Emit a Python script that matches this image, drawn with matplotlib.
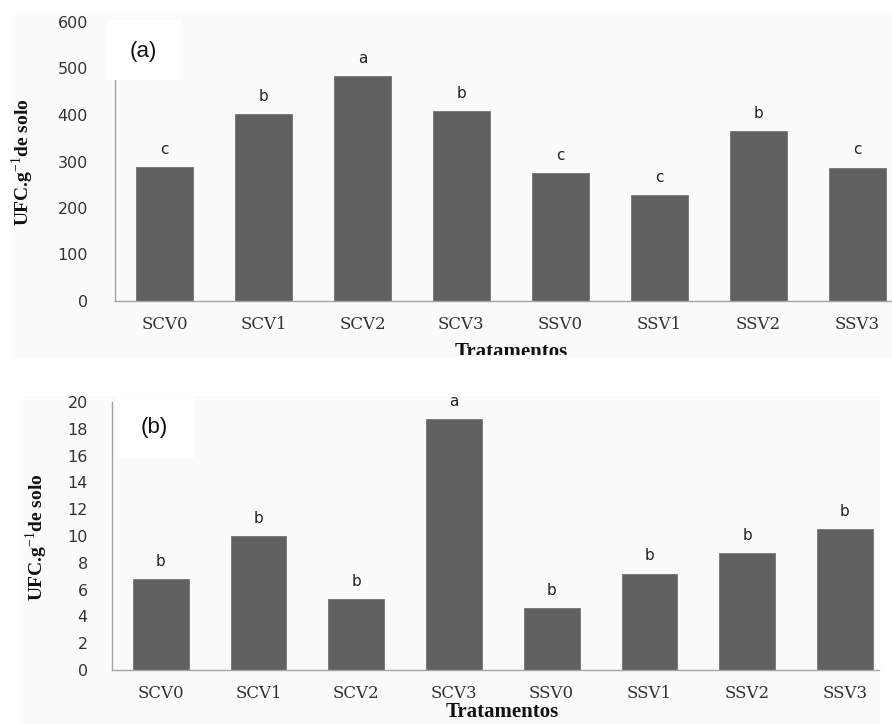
import matplotlib
matplotlib.use("Agg")
import matplotlib.pyplot as plt
from matplotlib.patches import Rectangle
from matplotlib.transforms import Bbox

# Treatments and colony counts (UFC per gram of soil)
tratamentos = ["SCV0", "SCV1", "SCV2", "SCV3", "SSV0", "SSV1", "SSV2", "SSV3"]
ufc_a = [288, 403, 484, 409, 276, 228, 366, 287]
letras_a = ["c", "b", "a", "b", "c", "c", "b", "c"]
ufc_b = [6.8, 10.0, 5.3, 18.7, 4.6, 7.2, 8.7, 10.5]
letras_b = ["b", "b", "b", "a", "b", "b", "b", "b"]
yticks_a = [0, 100, 200, 300, 400, 500, 600]
yticks_b = list(range(0, 21, 2))

W, H = 892, 724
fig = plt.figure(figsize=(W / 100, H / 100), dpi=100)
fig.patch.set_facecolor("white")
plt.rcParams["mathtext.fontset"] = "custom"
plt.rcParams["mathtext.rm"] = "Liberation Serif"
plt.rcParams["mathtext.bf"] = "Liberation Serif:bold"

BAR = "#616161"
SPINE = "#a3a3a3"


def px_axes(left, right, top, bottom):
    """Axes placed by pixel edges (origin top-left)."""
    return fig.add_axes([left / W, (H - bottom) / H, (right - left) / W, (bottom - top) / H])


def panel(ax, values, letters, yticks, ymax, ypad, label, label_xy, box):
    x = range(len(tratamentos))
    ax.set_facecolor("none")
    ax.bar(x, values, width=0.57, color=BAR, edgecolor="#7c7c7c", linewidth=0.7, zorder=2)
    for xi, v, l in zip(x, values, letters):
        ax.annotate(l, (xi, v), xytext=(0, 9.4), textcoords="offset points",
                    ha="center", va="baseline", fontsize=11,
                    family="DejaVu Sans", color="#222222")
    ax.set_xlim(-0.5, 7.35)
    ax.set_ylim(0, ymax)
    ax.set_yticks(yticks)
    ax.set_xticks(list(x))
    ax.set_xticklabels(tratamentos, family="DejaVu Serif", fontsize=12, color="#333333")
    ax.tick_params(axis="y", length=0, pad=ypad, labelsize=11.5, labelcolor="#333333")
    ax.tick_params(axis="x", length=0, pad=11)
    for s in ("top", "right"):
        ax.spines[s].set_visible(False)
    for s in ("left", "bottom"):
        ax.spines[s].set_color(SPINE)
        ax.spines[s].set_linewidth(1.0)
    # white label box over the plot corner
    bx0, by0, bx1, by1 = box
    fig.patches.append(Rectangle((bx0 / W, (H - by1) / H), (bx1 - bx0) / W, (by1 - by0) / H,
                                 transform=fig.transFigure, facecolor="white",
                                 edgecolor="none", zorder=5))
    fig.text(label_xy[0] / W, (H - label_xy[1]) / H, label, ha="center", va="center",
             fontsize=16, family="Liberation Sans", color="#111111", zorder=6)


# light panel backgrounds
fig.patches.append(Rectangle((15 / W, (H - 357) / H), (892 - 15) / W, (357 - 15) / H,
                             transform=fig.transFigure, facecolor="#fbfbfb",
                             edgecolor="none", zorder=-1))
fig.patches.append(Rectangle((23 / W, 0), (880 - 23) / W, (H - 396) / H,
                             transform=fig.transFigure, facecolor="#fbfbfb",
                             edgecolor="none", zorder=-1))

ax1 = px_axes(115, 892, 22, 301)
panel(ax1, ufc_a, letras_a, yticks_a, 600, 19.5, "(a)", (143, 51), (107, 20, 182, 80))

ax2 = px_axes(112, 879, 402, 670)
panel(ax2, ufc_b, letras_b, yticks_b, 20, 17.5, "(b)", (154, 427), (116, 398, 195, 458))

# y-axis titles
ylab = r"UFC.g$^{\mathrm{-1}}$de solo"
for (xc, yc) in [(23, 162), (37, 537)]:
    fig.text(xc / W, (H - yc) / H, ylab, rotation=90, ha="center", va="center",
             fontsize=14, family="Liberation Serif", weight="bold", color="#111111")

# x-axis titles; the upper one is cut at its panel edge
t1 = fig.text(511 / W, (H - 357) / H, "Tratamentos", ha="center", va="baseline",
              fontsize=15, family="Liberation Serif", weight="bold", color="#111111")
t1.set_clip_box(Bbox.from_extents(0, H - 355, W, H))
t1.set_clip_on(True)
fig.text(502 / W, (H - 717) / H, "Tratamentos", ha="center", va="baseline",
         fontsize=15, family="Liberation Serif", weight="bold", color="#111111")

fig.savefig("out.png", dpi=100)
